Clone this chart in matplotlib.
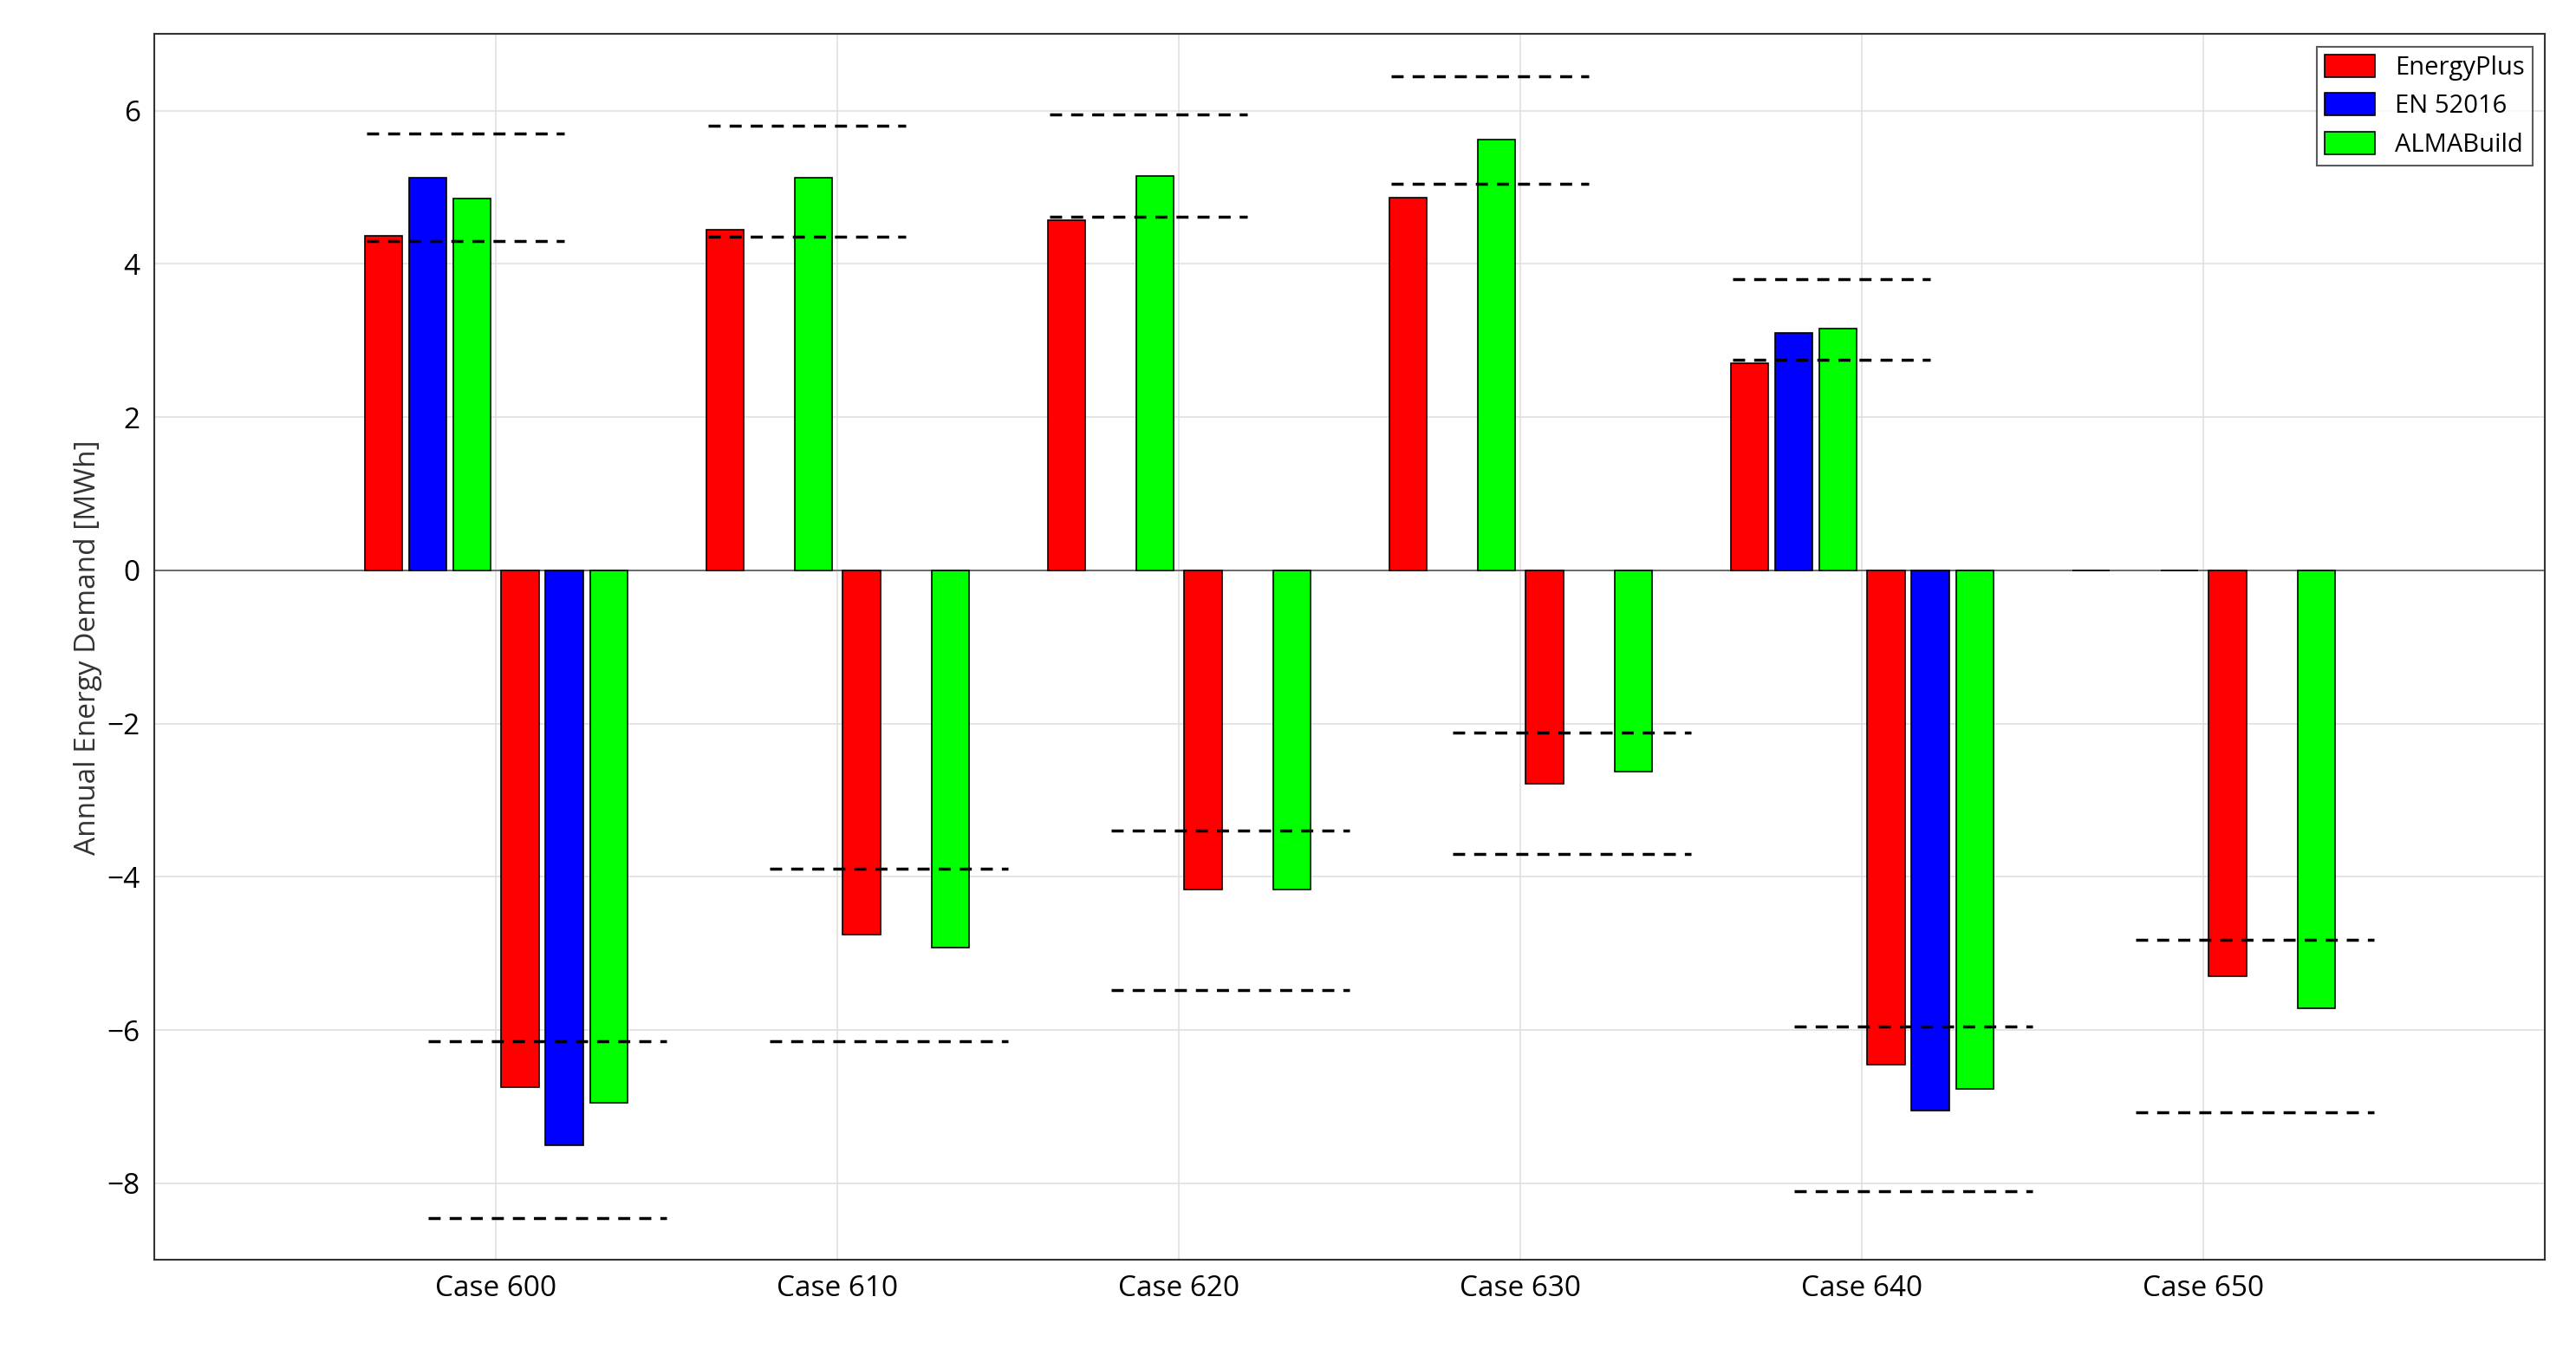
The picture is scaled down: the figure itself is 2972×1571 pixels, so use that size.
import numpy as np
import matplotlib.pyplot as plt

cases = ['Case 600', 'Case 610', 'Case 620', 'Case 630', 'Case 640', 'Case 650']
series = ['EnergyPlus', 'EN 52016', 'ALMABuild']
colors = ['#ff0000', '#0000ff', '#00ff00']

heating = {
    'EnergyPlus': [4.37, 4.45, 4.57, 4.87, 2.70, 0.0],
    'EN 52016':   [5.12, np.nan, np.nan, np.nan, 3.10, np.nan],
    'ALMABuild':  [4.85, 5.12, 5.15, 5.62, 3.15, 0.0],
}
cooling = {
    'EnergyPlus': [-6.75, -4.75, -4.17, -2.78, -6.45, -5.30],
    'EN 52016':   [-7.50, np.nan, np.nan, np.nan, -7.05, np.nan],
    'ALMABuild':  [-6.95, -4.92, -4.17, -2.63, -6.77, -5.72],
}
heat_max = [5.70, 5.80, 5.95, 6.45, 3.80, np.nan]
heat_min = [4.30, 4.35, 4.62, 5.05, 2.75, np.nan]
cool_max = [-6.15, -3.90, -3.40, -2.12, -5.95, -4.82]
cool_min = [-8.45, -6.15, -5.48, -3.70, -8.10, -7.07]

plt.rcParams['font.family'] = ['Open Sans', 'DejaVu Sans']
fig, ax = plt.subplots(figsize=(29.72, 15.71), dpi=100)
fig.subplots_adjust(left=0.06, right=0.988, top=0.975, bottom=0.075)

x = np.arange(len(cases))
w = 0.11
heat_off = [-0.33, -0.20, -0.07]
cool_off = [0.07, 0.20, 0.33]

for i, s in enumerate(series):
    ax.bar(x + heat_off[i], heating[s], w, color=colors[i], edgecolor='black',
           linewidth=1.2, label=s, zorder=3)
    ax.bar(x + cool_off[i], cooling[s], w, color=colors[i], edgecolor='black',
           linewidth=1.2, zorder=3)

for k in range(len(cases)):
    for v in (heat_max[k], heat_min[k]):
        ax.plot([x[k] - 0.38, x[k] + 0.20], [v, v], 'k--', lw=2.5, dashes=(4, 3), zorder=4)
    for v in (cool_max[k], cool_min[k]):
        ax.plot([x[k] - 0.20, x[k] + 0.50], [v, v], 'k--', lw=2.5, dashes=(4, 3), zorder=4)

ax.axhline(0, color='#555555', lw=1.2, zorder=2)
ax.set_xlim(-1, 6)
ax.set_ylim(-9, 7)
ax.set_xticks(x)
ax.set_xticklabels(cases)
ax.set_yticks(np.arange(-8, 7, 2))
ax.tick_params(labelsize=24, length=0, pad=12)
ax.set_ylabel('Annual Energy Demand [MWh]', fontsize=24, color='#333333')
ax.grid(True, color='#e0e0e0', lw=1.2, zorder=0)
for sp in ax.spines.values():
    sp.set_color('#333333')
    sp.set_linewidth(1.5)

leg = ax.legend(loc='upper right', fontsize=21, frameon=True, fancybox=False,
                edgecolor='#333333', borderpad=0.3, handlelength=2.0, handleheight=1.0)
leg.get_frame().set_linewidth(1.5)

fig.savefig('out.png', dpi=100, facecolor='white')
